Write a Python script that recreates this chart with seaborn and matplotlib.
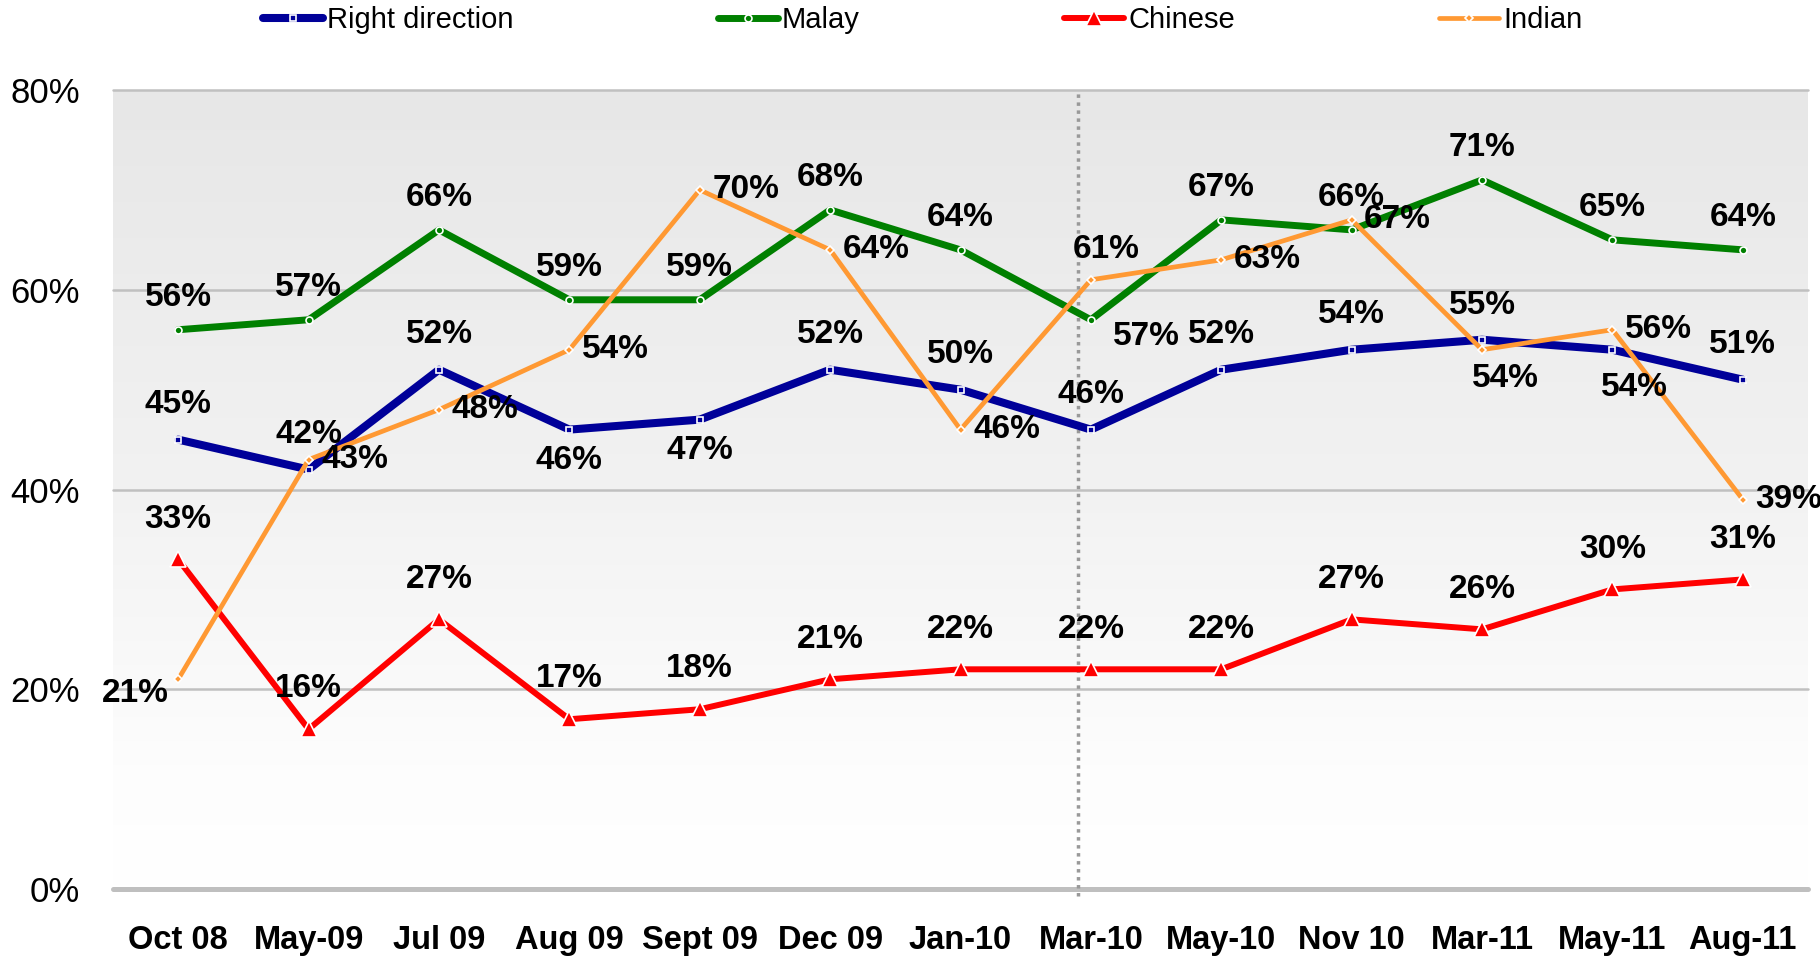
import numpy as np
import pandas as pd
import seaborn as sns
import matplotlib.pyplot as plt
from matplotlib.colors import LinearSegmentedColormap

months = ["Oct 08", "May-09", "Jul 09", "Aug 09", "Sept 09", "Dec 09", "Jan-10",
          "Mar-10", "May-10", "Nov 10", "Mar-11", "May-11", "Aug-11"]
right_direction = [45, 42, 52, 46, 47, 52, 50, 46, 52, 54, 55, 54, 51]
malay = [56, 57, 66, 59, 59, 68, 64, 57, 67, 66, 71, 65, 64]
chinese = [33, 16, 27, 17, 18, 21, 22, 22, 22, 27, 26, 30, 31]
indian = [21, 43, 48, 54, 70, 64, 46, 61, 63, 67, 54, 56, 39]
y_ticks = [0, 20, 40, 60, 80]

sns.set_style("white")
plt.rcParams['font.family'] = ['Liberation Sans', 'DejaVu Sans']
plt.rcParams['text.color'] = 'black'
plt.rcParams['xtick.color'] = 'black'
plt.rcParams['ytick.color'] = 'black'

# where each data label sits relative to its point
label_pos = {
    "Right direction": ["a", "a", "a", "b", "b", "a", "a", "a", "a", "a", "a", "br", "a"],
    "Malay": ["a"] * 7 + ["mr"] + ["a"] * 5,
    "Chinese": ["a"] * 13,
    "Indian": ["l", "r", "r", "r", "r", "r", "r", "ar", "r", "r", "bb", "r", "r"],
}

styles = {
    "Right direction": dict(color="#000099", lw=5.8, marker="s", ms=4.5, above=25),
    "Malay": dict(color="#008000", lw=5.0, marker="o", ms=5, above=23),
    "Chinese": dict(color="#ff0000", lw=4.3, marker="^", ms=12, above=29),
    "Indian": dict(color="#ff9933", lw=3.4, marker="D", ms=4, above=23),
}

series = {"Right direction": right_direction, "Malay": malay,
          "Chinese": chinese, "Indian": indian}

fig = plt.figure(figsize=(18.2, 9.61), dpi=100)
ax = fig.add_axes([0.0621, 0.0749, 0.9313, 0.8314])

# gradient plot background
grad = np.linspace(0, 80, 200).reshape(-1, 1)
cmap = LinearSegmentedColormap.from_list("bg", [(0, "#ffffff"), (0.15, "#fdfdfd"),
                                               (0.5, "#f2f2f2"), (1, "#e7e7e7")])
ax.imshow(grad, extent=[-0.5, 12.5, 0, 80], origin="lower", aspect="auto",
          cmap=cmap, vmin=0, vmax=80, zorder=0)

for y in y_ticks[1:]:
    ax.axhline(y, color="#c0c0c0", lw=1.8, zorder=1, clip_on=False)
ax.axhline(0, color="#bfbfbf", lw=3.6, zorder=1, clip_on=False)

ax.plot([6.9, 6.9], [-0.7, 80], color="#999999", lw=2.5, ls=(0, (1, 1.3)),
        zorder=1.5, clip_on=False)

for name, vals in series.items():
    st = styles[name]
    sns.lineplot(x=months, y=vals, ax=ax, color=st["color"], lw=st["lw"],
                 marker=st["marker"], markersize=st["ms"],
                 markerfacecolor=st["color"], markeredgecolor="white",
                 markeredgewidth=1.2, label=name, sort=False, zorder=3)

for name, vals in series.items():
    up = styles[name]["above"]
    offsets = {
        "a": ((0, up), "center"), "b": ((0, -22), "center"),
        "r": ((9, 0), "left"), "l": ((-7, -10), "right"),
        "mr": ((16, -12), "left"), "br": ((16, -27), "center"),
        "bb": ((17, -21), "center"), "ar": ((11, 22), "center"),
    }
    for i, (v, p) in enumerate(zip(vals, label_pos[name])):
        off, ha = offsets[p]
        ax.annotate(f"{v}%", (i, v), xytext=off, textcoords="offset points",
                    ha=ha, va="center", fontsize=24, fontweight="bold",
                    color="black", zorder=5, annotation_clip=False)

ax.set_xlim(-0.5, 12.5)
ax.set_ylim(0, 80)
ax.set_yticks(y_ticks)
ax.set_yticklabels([f"{t}%" for t in y_ticks], fontsize=25)
ax.set_xticks(range(len(months)))
ax.set_xticklabels(months, fontsize=23.5, fontweight="bold")
ax.tick_params(axis="x", length=0, pad=26, labelcolor="black")
ax.tick_params(axis="y", length=0, pad=24, labelcolor="black")
ax.set_xlabel("")
ax.set_ylabel("")
ax.grid(False)
sns.despine(ax=ax, left=True, bottom=True)

handles, labels = ax.get_legend_handles_labels()
ax.legend_.remove()
fig.legend(handles, labels, loc="center", bbox_to_anchor=(0.507, 0.979), ncol=4,
           frameon=False, fontsize=21, handlelength=2.05, handletextpad=0.15,
           columnspacing=7.0, borderpad=0, borderaxespad=0, labelcolor="black")

fig.savefig("out.png", dpi=100)
